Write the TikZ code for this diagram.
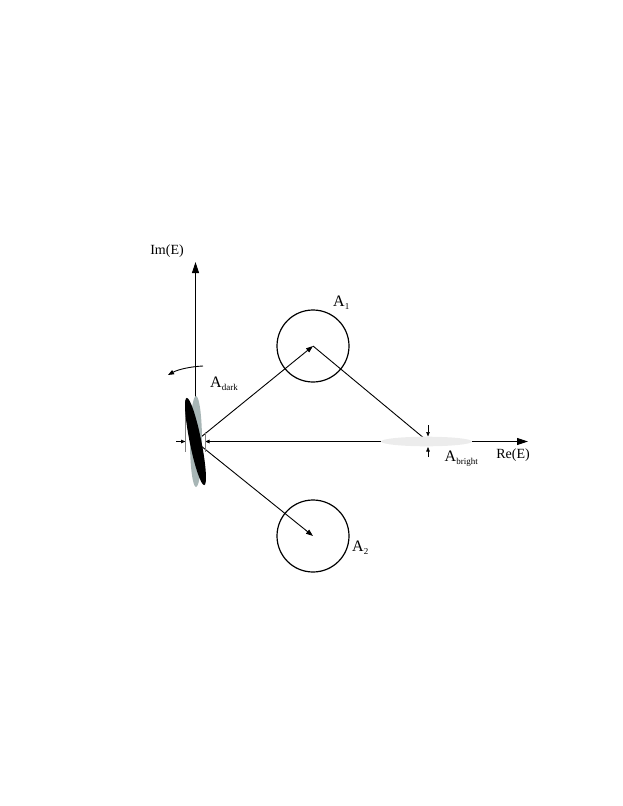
\documentclass[tikz,border=0pt]{standalone}
\usepackage{fontspec}
\setmainfont{Liberation Serif}
\usetikzlibrary{arrows.meta}
\newcommand\Alab[1]{A\raisebox{-3pt}{\fontsize{9}{9}\selectfont #1}}
\definecolor{ellgray}{RGB}{168,182,182}
\definecolor{brightgray}{RGB}{236,236,236}
\begin{document}
\begin{tikzpicture}[x=1pt,y=-1pt,
  axisline/.style={line width=0.9pt},
  vecline/.style={line width=0.9pt,-{Triangle[length=7pt,width=5pt]}},
  bigtip/.style={-{Triangle[length=11pt,width=7pt]}},
  smalltip/.style={-{Triangle[length=4.5pt,width=3.5pt]}},
  ring/.style={line width=1.2pt},
  lab/.style={inner sep=0pt,font=\fontsize{16}{16}\selectfont,anchor=base west},
  axlab/.style={inner sep=0pt,font=\fontsize{14}{14}\selectfont}]
\useasboundingbox (0,0) rectangle (623,806);
\coordinate (O) at (195.5,441.5);
\coordinate (C1) at (313,346);
\coordinate (C2) at (313,536);
\coordinate (B) at (428,441.5);
\coordinate (ImTop) at (195.5,262);
\coordinate (ReEnd) at (528,441.5);
\coordinate (ReStart) at (205,441.5);
% axes
\draw[axisline,bigtip] (O) -- (ImTop);
\draw[axisline,{Triangle[length=4.5pt,width=3.5pt]}-{Triangle[length=11pt,width=7pt]}] (ReStart) -- (ReEnd);
% circles
\node[ring,draw,circle,minimum size=72pt,inner sep=0pt] (A1c) at (C1) {};
\node[ring,draw,circle,minimum size=72pt,inner sep=0pt] (A2c) at (C2) {};
% vectors
\draw[vecline] (O) -- (C1);
\draw[vecline] (O) -- (C2);
\draw[line width=0.9pt] (C1) -- (B);
% bright ellipse
\fill[brightgray] (426.5,441.5) ellipse (45.5 and 4.8);
% small markers at A_bright
\coordinate (Bt0) at (428,425);
\coordinate (Bt1) at (428,436.5);
\coordinate (Bb0) at (428,457);
\coordinate (Bb1) at (428,447);
\draw[line width=0.6pt,smalltip] (Bt0) -- (Bt1);
\draw[line width=0.6pt,smalltip] (Bb0) -- (Bb1);
% markers at A_dark
\coordinate (Dl0) at (176,441.5);
\coordinate (Dl1) at (185.5,441.5);
\draw[line width=0.9pt,smalltip] (Dl0) -- (Dl1);
\draw[line width=0.4pt,gray] (185.5,400) -- (185.5,452);
\draw[line width=0.4pt,gray] (205,432) -- (205,452);
% ellipses at origin
\fill[ellgray] (196,441.5) ellipse (6 and 45.5);
\fill[black,rotate around={11.4:(O)}] (O) ellipse (5.8 and 44.5);
% curved arrow
\coordinate (R0) at (203,366);
\coordinate (R1) at (168,375);
\draw[line width=0.9pt,-{Triangle[length=6pt,width=4.5pt]}] (R0) .. controls (192,366.5) and (179,369) .. (R1);
% labels
\node[lab] (LA1) at (333,306) {\Alab{1}};
\node[lab] (LA2) at (352,551) {\Alab{2}};
\node[lab] (LAd) at (210,387) {\Alab{dark}};
\node[lab] (LAb) at (444.5,461) {\Alab{bright}};
\node[axlab] (LIm) at (167,251.5) {Im(E)};
\node[axlab] (LRe) at (513,455.5) {Re(E)};
\end{tikzpicture}
\end{document}
